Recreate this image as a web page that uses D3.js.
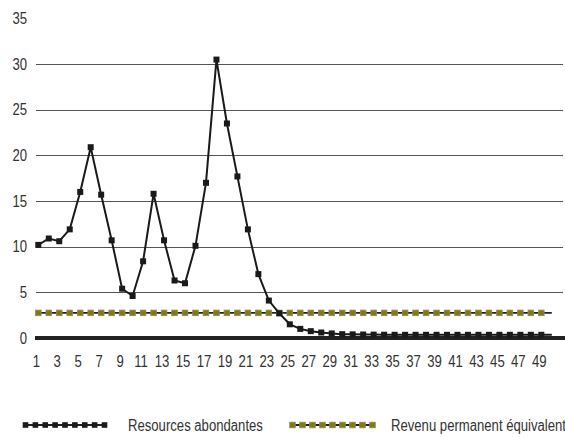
<!DOCTYPE html>
<html>
<head>
<meta charset="utf-8">
<script src="https://cdn.jsdelivr.net/npm/d3@7"></script>
<style>
  body { margin: 0; background: #fff; }
  text { font-family: "Liberation Sans", Arial, sans-serif; fill: #333; }
</style>
</head>
<body>
<div id="chart"></div>
<script>
// periods 1..50
var periods = d3.range(1, 51);

// Resources abondantes
var abondantes = [10.2, 10.9, 10.6, 11.9, 16.0, 20.9, 15.7, 10.7, 5.4, 4.6,
                  8.4, 15.8, 10.7, 6.3, 6.0, 10.1, 17.0, 30.5, 23.5, 17.7,
                  11.9, 7.0, 4.1, 2.7, 1.5, 1.0, 0.75, 0.6, 0.5, 0.42,
                  0.4, 0.38, 0.37, 0.36, 0.35, 0.35, 0.35, 0.35, 0.35, 0.35,
                  0.35, 0.35, 0.35, 0.35, 0.35, 0.35, 0.35, 0.35, 0.35, 0.35];

// Revenu permanent équivalent
var revenu = periods.map(function(){ return 2.75; });

var yTicks = [0, 5, 10, 15, 20, 25, 30, 35];
var gridTicks = [5, 10, 15, 20, 25, 30];
var xTickLabels = periods.filter(function(d){ return d % 2 == 1 && d < 50; });

var seriesNames = ["Resources abondantes", "Revenu permanent équivalent"];

var width = 565, height = 437;
var narrow = "scale(0.82,1)";

var svg = d3.select("#chart")
            .append("svg")
              .attr("width", width)
              .attr("height", height);

var xScale = d3.scalePoint()
                .domain(periods)
                .range([38.3, 551.8]);

var yScale = d3.scaleLinear()
                .domain([0, 35])
                .range([338, 18.5]);

// gridlines
svg.append("g")
   .selectAll("line")
   .data(gridTicks)
   .enter()
   .append("line")
     .attr("x1", 36)
     .attr("x2", 563)
     .attr("y1", function(d){ return Math.round(yScale(d)) + 0.5; })
     .attr("y2", function(d){ return Math.round(yScale(d)) + 0.5; })
     .style("stroke", "#555")
     .style("stroke-width", 1.2);

// y axis labels
var yAxis = svg.append("g")
   .attr("transform", "translate(27,0)")
   .call(d3.axisLeft(yScale).tickValues(yTicks).tickSize(0).tickPadding(0));
yAxis.select(".domain").remove();
yAxis.selectAll("text")
   .attr("transform", narrow)
   .style("font-size", "16px")
   .style("font-family", null)
   .attr("fill", "#333");

// zero line
svg.append("line")
   .attr("x1", 35)
   .attr("x2", 565)
   .attr("y1", yScale(0))
   .attr("y2", yScale(0))
   .style("stroke", "#222")
   .style("stroke-width", 4);

// x axis labels
var xAxis = svg.append("g")
   .attr("transform", "translate(-2.5," + (yScale(0) + 18) + ")")
   .call(d3.axisBottom(xScale).tickValues(xTickLabels).tickSize(0).tickPadding(0));
xAxis.select(".domain").remove();
xAxis.selectAll("text")
   .attr("transform", narrow)
   .style("font-size", "16px")
   .style("font-family", null)
   .attr("fill", "#333");

var line = d3.line()
             .x(function(d, i){ return xScale(periods[i]); })
             .y(function(d){ return yScale(d); });

// Revenu permanent équivalent
svg.append("path")
   .attr("d", line(revenu))
   .style("fill", "none")
   .style("stroke", "#222")
   .style("stroke-width", 1.6);

svg.append("g")
   .selectAll("rect")
   .data(revenu.slice(0, 49))
   .enter()
   .append("rect")
     .attr("x", function(d, i){ return xScale(periods[i]) - 2.8; })
     .attr("y", function(d){ return yScale(d) - 2.8; })
     .attr("width", 5.6)
     .attr("height", 5.6)
     .style("fill", "#867a00")
     .style("stroke", "#8a8a70")
     .style("stroke-width", 0.8);

// Resources abondantes
svg.append("path")
   .attr("d", line(abondantes))
   .style("fill", "none")
   .style("stroke", "#1a1a1a")
   .style("stroke-width", 2);

svg.append("g")
   .selectAll("rect")
   .data(abondantes.slice(0, 49))
   .enter()
   .append("rect")
     .attr("x", function(d, i){ return xScale(periods[i]) - 3; })
     .attr("y", function(d){ return yScale(d) - 3; })
     .attr("width", 6)
     .attr("height", 6)
     .style("fill", "#1a1a1a");

// legend
var legendY = 425;
var legendItems = [
  {name: seriesNames[0], x0: 23, x1: 107, tx: 128, fill: "#1a1a1a", stroke: "none"},
  {name: seriesNames[1], x0: 290, x1: 375, tx: 391, fill: "#867a00", stroke: "#8a8a70"}
];

var legend = svg.selectAll("legend")
   .data(legendItems)
   .enter()
   .append("g");

legend.append("line")
   .attr("x1", function(d){ return d.x0; })
   .attr("x2", function(d){ return d.x1; })
   .attr("y1", legendY)
   .attr("y2", legendY)
   .style("stroke", "#222")
   .style("stroke-width", 1.8);

legend.selectAll("rect")
   .data(function(d){
     return d3.range(9).map(function(k){
       return {x: d.x0 + 2.5 + k * (d.x1 - d.x0 - 5) / 8, fill: d.fill, stroke: d.stroke};
     });
   })
   .enter()
   .append("rect")
     .attr("x", function(d){ return d.x - 2.8; })
     .attr("y", legendY - 2.8)
     .attr("width", 5.6)
     .attr("height", 5.6)
     .style("fill", function(d){ return d.fill; })
     .style("stroke", function(d){ return d.stroke; })
     .style("stroke-width", 0.8);

legend.append("text")
   .attr("transform", function(d){ return "translate(" + d.tx + "," + (legendY + 5.5) + ") " + narrow; })
   .text(function(d){ return d.name; })
   .style("font-size", "16px");
</script>
</body>
</html>
